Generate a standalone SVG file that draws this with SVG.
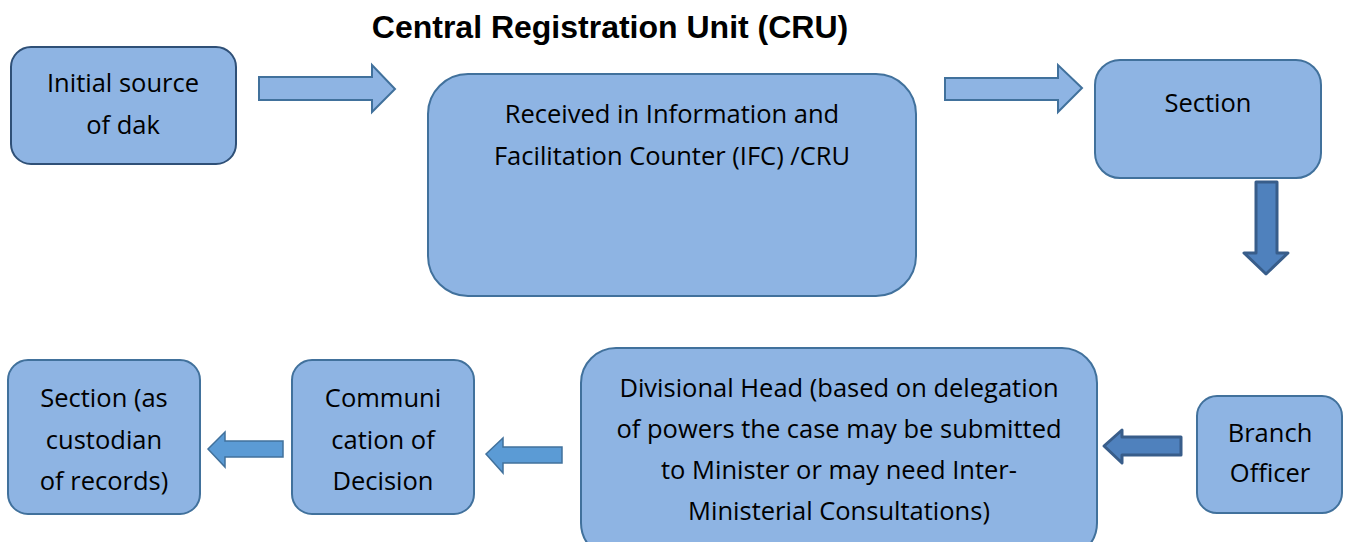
<svg xmlns="http://www.w3.org/2000/svg" width="1349" height="542" viewBox="0 0 1349 542">
<style>
.box{fill:#8EB4E3;stroke:#41719C;stroke-width:2}
.t{font-family:"Open Sans","Liberation Sans",sans-serif;font-size:25.5px;fill:#000;text-anchor:middle}
.title{font-family:"Liberation Sans",Arial,sans-serif;font-size:32px;font-weight:bold;fill:#000;text-anchor:middle}
.a1{fill:#8EB4E3;stroke:#41719C;stroke-width:2}
.a2{fill:#4F81BD;stroke:#385D8A;stroke-width:3;stroke-linejoin:round}
.a3{fill:#5B9BD5;stroke:#41719C;stroke-width:1.5}
</style>
<rect width="1349" height="542" fill="#fff"/>
<text class="title" x="610" y="38">Central Registration Unit (CRU)</text>
<g id="connectors">
<polygon class="a1" points="259,77 372,77 372,65 395,89 372,112 372,100 259,100"/>
<polygon class="a1" points="945,78 1058,78 1058,65 1082,88 1058,112 1058,100 945,100"/>
<polygon class="a2" points="1256,182 1277,182 1277,253 1288,253 1266,274 1244,253 1256,253"/>
<polygon class="a2" points="1181,437 1122,437 1122,430 1104,446 1122,463 1122,455 1181,455"/>
<polygon class="a3" points="562,447 503,447 503,438 486,454 503,473 503,463 562,463"/>
<polygon class="a3" points="283,441 225,441 225,432 208,449 225,467 225,457 283,457"/>
</g>
<g id="n1"><rect class="box" x="11" y="47" width="225" height="117" rx="20" style="stroke:#2F5077"/>
<text class="t" x="123" y="92">Initial source</text><text class="t" x="123" y="134">of dak</text></g>
<g id="n2"><rect class="box" x="428" y="74" width="488" height="222" rx="40"/>
<text class="t" x="672" y="123">Received in Information and</text><text class="t" x="672" y="165">Facilitation Counter (IFC) /CRU</text></g>
<g id="n3"><rect class="box" x="1095" y="60" width="226" height="118" rx="25"/>
<text class="t" x="1208" y="112">Section</text></g>
<g id="n4"><rect class="box" x="1197" y="396" width="145" height="117" rx="20"/>
<text class="t" x="1270" y="442">Branch</text><text class="t" x="1270" y="482">Officer</text></g>
<g id="n5"><rect class="box" x="581" y="348" width="516" height="210" rx="35"/>
<text class="t" x="839" y="397">Divisional Head (based on delegation</text>
<text class="t" x="839" y="438">of powers the case may be submitted</text>
<text class="t" x="839" y="479">to Minister or may need Inter-</text>
<text class="t" x="839" y="520">Ministerial Consultations)</text></g>
<g id="n6"><rect class="box" x="292" y="360" width="182" height="154" rx="20"/>
<text class="t" x="383" y="407">Communi</text><text class="t" x="383" y="449">cation of</text><text class="t" x="383" y="490">Decision</text></g>
<g id="n7"><rect class="box" x="8" y="360" width="192" height="154" rx="20"/>
<text class="t" x="104" y="407">Section (as</text><text class="t" x="104" y="449">custodian</text><text class="t" x="104" y="490">of records)</text></g>
</svg>
